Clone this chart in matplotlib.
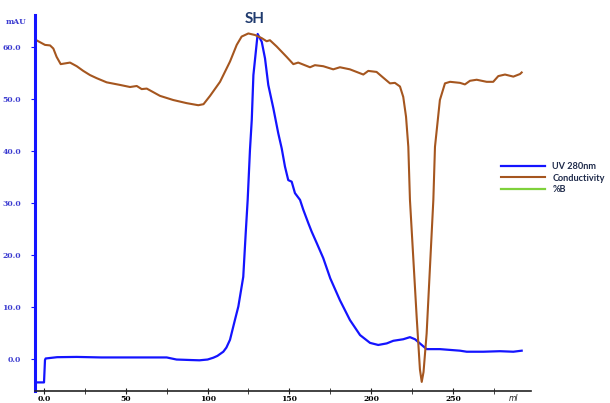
import numpy as np
import matplotlib.pyplot as plt

# UV 280nm trace (ml, mAU)
uv_ml = [-5.5, 0.0, 0.6, 1.0, 8, 20, 35, 50, 65, 75, 81, 90, 95, 100, 103.5, 106, 109.6,
         111.5, 113.7, 116.7, 118.8, 121.8, 123.3, 124.5, 125.9, 127.0, 128.0, 130.6,
         133.1, 135.1, 137.1, 140.2, 141.2, 143.2, 145.3, 147.3, 149.3, 151.4, 153.4,
         156.5, 158.5, 161.6, 163.6, 166.7, 170.7, 175.0, 180.9, 187.0, 193.2, 199.3,
         204.3, 209.5, 213.5, 219.6, 223.7, 226.8, 230.9, 233.9, 242.0, 254.3, 258.4,
         268.5, 278.7, 286.9, 292.0]
uv_mau = [-4.5, -4.5, -0.2, 0.1, 0.35, 0.4, 0.3, 0.3, 0.3, 0.3, -0.1, -0.2, -0.25, -0.1, 0.25, 0.6, 1.4,
          2.2, 3.7, 7.5, 10.1, 15.8, 24.2, 30.6, 40.2, 46.0, 54.6, 62.5,
          61.0, 57.8, 52.7, 48.2, 46.6, 43.4, 40.5, 37.0, 34.4, 34.1, 31.9,
          30.6, 28.7, 26.1, 24.5, 22.3, 19.4, 15.5, 11.3, 7.5, 4.6, 3.1,
          2.7, 3.0, 3.5, 3.8, 4.2, 3.8, 2.7, 1.9, 1.9, 1.6, 1.4,
          1.4, 1.5, 1.4, 1.6]

# Conductivity trace (ml, plotted on the same scale)
cond_ml = [-4.1, 0.6, 3.7, 5.7, 7.7, 10.2, 15.9, 20, 24, 28.1, 32.2, 38.3, 46.5, 52.6,
           56.7, 59.7, 62.8, 70.9, 79, 87.2, 94.3, 97.5, 101.5, 107.6, 113.7, 117.8,
           120.8, 124.9, 129, 133.1, 136.1, 138.1, 142.2, 148.3, 152.4, 155.4, 162.6,
           165.6, 170.7, 176.8, 180.9, 187, 195.2, 198.2, 203.3, 207.0, 211.5, 214.5,
           217.6, 219.6, 221.3, 222.7, 223.7, 227.8, 229.8, 230.9, 232.0, 233.9, 238.0,
           239.0, 242.0, 245.1, 248.2, 254.3, 257.3, 260.4, 264.5, 270.6, 274.6, 277.7,
           281.8, 286.9, 291.0, 292.0]
cond_val = [61.2, 60.4, 60.3, 59.7, 58.1, 56.7, 57.0, 56.3, 55.4, 54.6, 54.0, 53.2, 52.7, 52.3,
            52.5, 51.9, 52.0, 50.6, 49.8, 49.2, 48.8, 49.0, 50.6, 53.3, 57.2, 60.4,
            62.0, 62.6, 62.3, 61.7, 61.1, 61.3, 60.1, 58.1, 56.7, 57.0, 56.1,
            56.5, 56.3, 55.7, 56.1, 55.7, 54.7, 55.4, 55.2, 54.2, 53.0, 53.1,
            52.4, 50.4, 46.6, 40.8, 30.6, 8.1, -2.0, -4.4, -2.5, 4.9, 30.6,
            40.8, 49.8, 53.0, 53.3, 53.1, 52.8, 53.5, 53.7, 53.3, 53.3, 54.4,
            54.7, 54.3, 54.8, 55.1]

x_ticks = [0, 50, 100, 150, 200, 250]
x_labels = ['0.0', '50', '100', '150', '200', '250']
y_ticks = [0, 10, 20, 30, 40, 50, 60]

fig = plt.figure(figsize=(6.1, 4.03), dpi=100)
ax = fig.add_axes([0.0574, 0.0298, 0.8131, 0.933])

ax.plot(uv_ml, uv_mau, color='#1414ff', lw=1.6, label='UV 280nm')
ax.plot(cond_ml, cond_val, color='#a5561f', lw=1.5, label='Conductivity')
ax.plot([], [], color='#7fd13b', lw=1.6, label='%B')

ax.set_xlim(-5.5, 297.7)
ax.set_ylim(-6.15, 66.15)

# axes styling
for s in ['top', 'right']:
    ax.spines[s].set_visible(False)
ax.spines['left'].set_color('#1414ff')
ax.spines['left'].set_linewidth(2.2)
ax.spines['bottom'].set_color('#222222')
ax.spines['bottom'].set_linewidth(1.2)

ax.set_yticks(y_ticks)
ax.set_yticklabels([f'{v:.1f}' for v in y_ticks], color='#3b3bd0',
                   fontsize=5.5, family='DejaVu Serif', fontweight='bold')
ax.tick_params(axis='y', colors='#1414ff', labelcolor='#3b3bd0', length=3, pad=7)

ax.set_xticks(x_ticks)
ax.set_xticklabels(x_labels, fontsize=5.5, family='DejaVu Serif', fontweight='bold')
ax.set_xticks(np.arange(25, 300, 50), minor=True)
ax.tick_params(axis='x', which='both', direction='inout', length=4, color='#222222', pad=1)

ax.text(-0.018, 0.981, 'mAU', transform=ax.transAxes, ha='right', va='center',
        fontsize=5.5, color='#3b3bd0', family='DejaVu Serif', fontweight='bold')
ax.text(0.965, -0.019, 'ml', transform=ax.transAxes, ha='center', va='center',
        fontsize=5.5, style='italic', color='#222222')

ax.text(129, 65.3, 'SH', ha='center', va='center', fontsize=11,
        fontweight='bold', color='#1f3a6e', family='Lato', clip_on=False)

leg = ax.legend(loc='center left', bbox_to_anchor=(0.808, 0.558),
                bbox_transform=fig.transFigure, frameon=False,
                prop={'size': 6.6},
                handlelength=4.8, handletextpad=0.8, labelspacing=0.25)
for t in leg.get_texts():
    t.set_color('#1e2a4a')
    t.set_family('Lato')
    t.set_fontweight('bold')

plt.savefig('out.png', dpi=100)
